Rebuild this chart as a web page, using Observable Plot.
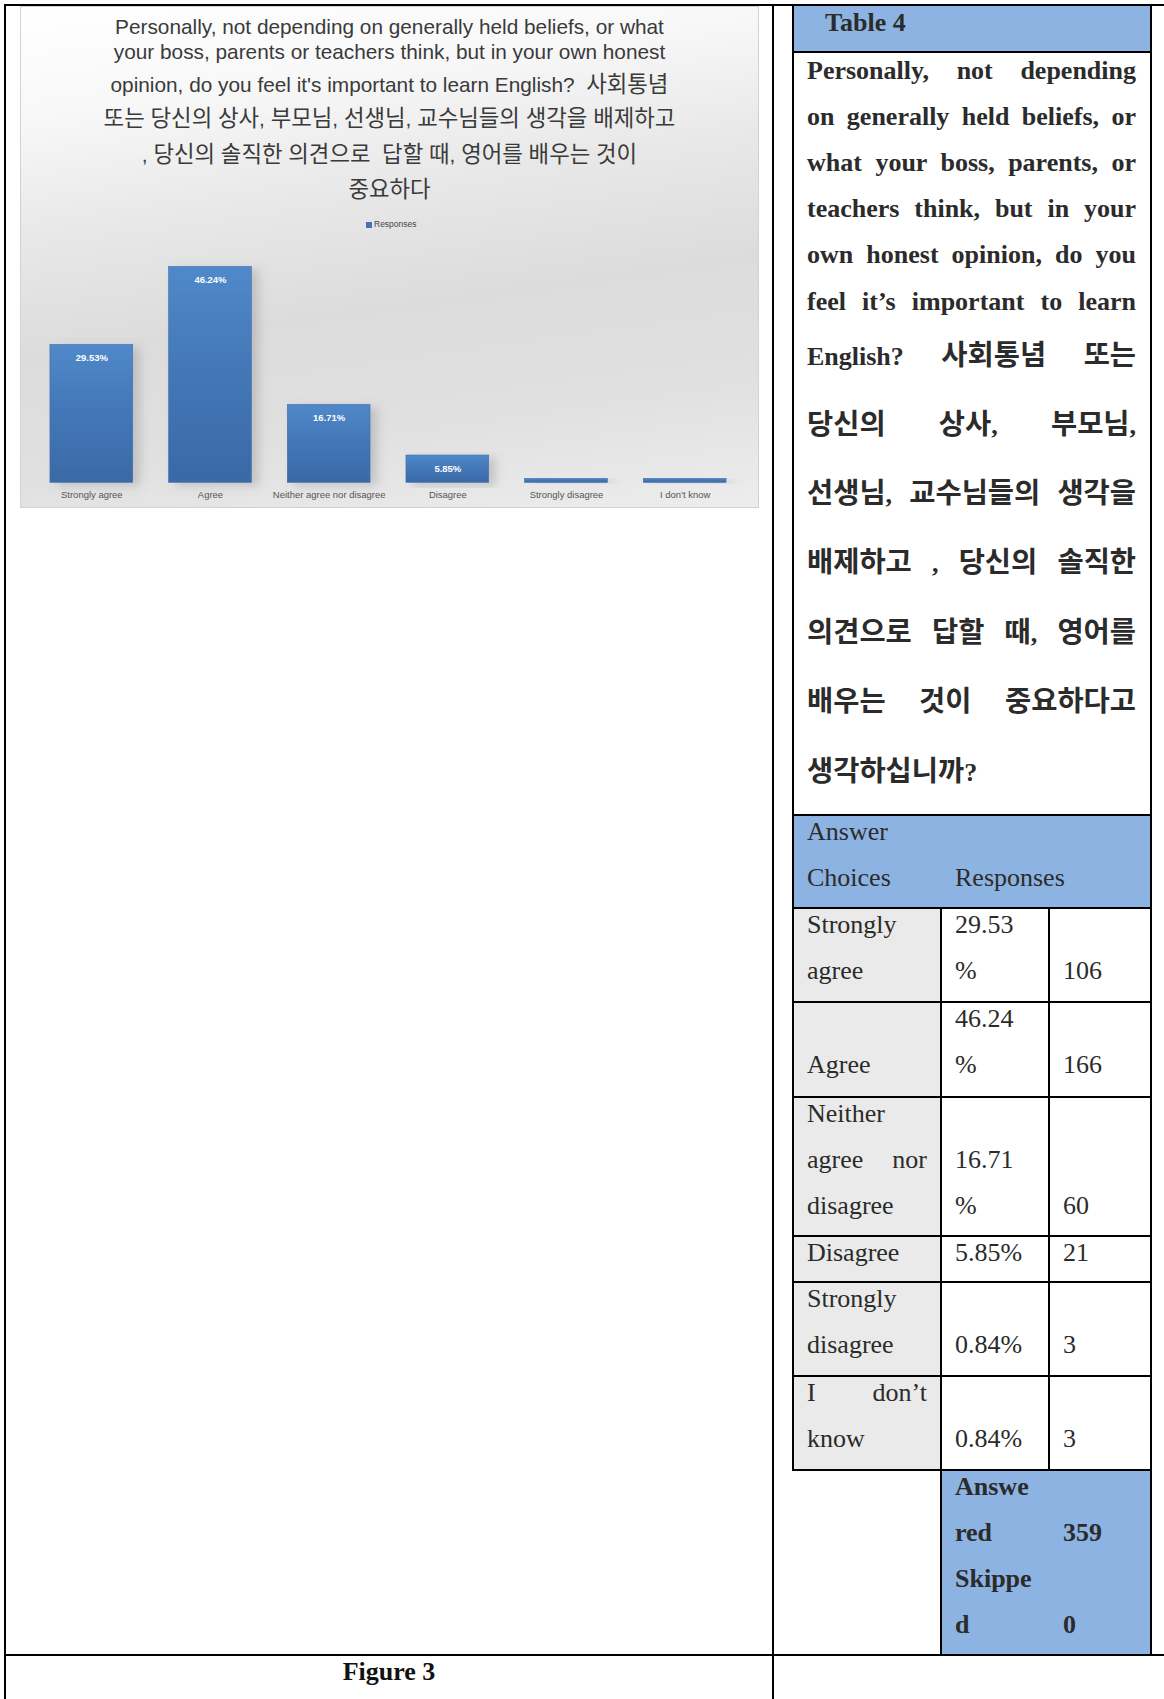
<!DOCTYPE html>
<html><head><meta charset="utf-8">
<script src="https://cdn.jsdelivr.net/npm/d3@7"></script>
<script src="https://cdn.jsdelivr.net/npm/@observablehq/plot@0.6"></script>
<style>
html,body{margin:0;padding:0;background:#fff;}
body{width:1164px;height:1699px;position:relative;overflow:hidden;}
.r{position:absolute;}
.t{position:absolute;line-height:1;white-space:nowrap;transform:translateY(-50%);}
.t .ko{font-family:"Noto Sans CJK KR",sans-serif;font-size:1.095em;}
#chart{position:absolute;left:20px;top:6px;width:739px;height:502px;box-sizing:border-box;border:1px solid #d2d2d2;
 background:linear-gradient(172deg,#ffffff 0%,#f8f8f8 18%,#e8e8e8 38%,#dcdcdc 58%,#e0e0e0 78%,#ededed 100%);}
.title{position:absolute;left:0;width:100%;text-align:center;font-family:"Liberation Sans",Arial,"Noto Sans CJK KR",sans-serif;font-size:20.8px;color:#3a3a3a;line-height:1;white-space:pre;transform:translateY(-50%);}
.title .ko{font-family:"Noto Sans CJK KR",sans-serif;font-size:1.075em;}
</style></head>
<body>
<div id="chart"></div>
<script>
// ---------- data ----------
const categories = ["Strongly agree","Agree","Neither agree nor disagree","Disagree","Strongly disagree","I don't know"];
const percents = [29.53, 46.24, 16.71, 5.85, 0.84, 0.84];
const counts = [106, 166, 60, 21, 3, 3];
const answered = 359;
const skipped = 0;
const titleLines = [
  "Personally, not depending on generally held beliefs, or what",
  "your boss, parents or teachers think, but in your own honest",
  "opinion, do you feel it's important to learn English?  사회통념",
  "또는 당신의 상사, 부모님, 선생님, 교수님들의 생각을 배제하고",
  ", 당신의 솔직한 의견으로  답할 때, 영어를 배우는 것이",
  "중요하다"
];
const seriesName = "Responses";
const questionLines = [
  "Personally, not depending",
  "on generally held beliefs, or",
  "what your boss, parents, or",
  "teachers think, but in your",
  "own honest opinion, do you",
  "feel it’s important to learn",
  "English? 사회통념 또는",
  "당신의 상사, 부모님,",
  "선생님, 교수님들의 생각을",
  "배제하고 , 당신의 솔직한",
  "의견으로 답할 때, 영어를",
  "배우는 것이 중요하다고",
  "생각하십니까?"
];
const choiceLines = [["Strongly","agree"],["Agree"],["Neither","agree nor","disagree"],["Disagree"],["Strongly","disagree"],["I don’t","know"]];
const summaryLines = [["Answe","red"],["Skippe","d"]];

const wrapKo = s => s.replace(/([\uAC00-\uD7A3]+)/g, '<span class="ko">$1</span>');

// ---------- chart ----------
const chart = document.getElementById("chart");
const titleY = [20, 45, 76, 110, 146, 181];
titleLines.forEach((s,i)=>{
  const d = document.createElement("div");
  d.className = "title"; d.innerHTML = wrapKo(s); d.style.top = titleY[i] + "px";
  chart.appendChild(d);
});
const leg = document.createElement("div");
leg.style.cssText = "position:absolute;left:345px;top:212px;font-family:'Liberation Sans',Arial,sans-serif;font-size:8.5px;color:#444;line-height:10px;white-space:nowrap;";
leg.innerHTML = '<span style="display:inline-block;width:6px;height:6px;background:#4a6fb8;margin-right:2px;vertical-align:-0.5px"></span>' + seriesName;
chart.appendChild(leg);

const data = categories.map((c,i)=>({category:c, pct:percents[i], count:counts[i]}));
const plot = Plot.plot({
  width: 739, height: 272,
  marginLeft: 12, marginRight: 12, marginTop: 13, marginBottom: 25,
  style: {background: "transparent", fontFamily: "Liberation Sans, Arial, sans-serif", overflow: "visible"},
  x: {domain: categories, paddingInner: 0.3, paddingOuter: 0.15},
  y: {domain: [0, 50], axis: null},
  marks: [
    Plot.barY(data, {x: "category", y: "pct", fill: "url(#barGrad)", stroke: "#3f6fae", strokeWidth: 0.6, className: "bars"}),
    Plot.text(data.filter(d => d.pct > 2), {x: "category", y: "pct", text: d => d.pct.toFixed(2) + "%", dy: 13, fill: "white", fontWeight: "bold", fontSize: 9.5}),
    Plot.axisX({tickSize: 0, tickPadding: 8, fontSize: 9.5, color: "#555", label: null})
  ]
});
const defs = d3.select(plot).insert("defs", ":first-child");
const g = defs.append("linearGradient").attr("id","barGrad").attr("x1",0).attr("y1",0).attr("x2",0).attr("y2",1);
g.append("stop").attr("offset","0%").attr("stop-color","#5089c9");
g.append("stop").attr("offset","45%").attr("stop-color","#4478b8");
g.append("stop").attr("offset","100%").attr("stop-color","#3a69a6");
const f = defs.append("filter").attr("id","shadow").attr("x","-10%").attr("y","-10%").attr("width","160%").attr("height","130%");
f.append("feDropShadow").attr("dx",7).attr("dy",3).attr("stdDeviation",5).attr("flood-color","#707070").attr("flood-opacity",0.28);
d3.select(plot).selectAll("g.bars rect").attr("filter","url(#shadow)");
plot.style.position = "absolute"; plot.style.left = "-1px"; plot.style.top = "229px";
chart.appendChild(plot);

// ---------- table / frame ----------
const body = document.body;
function rect(x, y, w, h, color){
  const d = document.createElement("div");
  d.className = "r";
  d.style.cssText += `left:${x}px;top:${y}px;width:${w}px;height:${h}px;background:${color};`;
  body.appendChild(d);
}
const serif = "'Liberation Serif','Times New Roman','Noto Sans CJK KR',serif";
function text(s, x, y, o = {}){
  const d = document.createElement("div");
  d.className = "t";
  d.innerHTML = wrapKo(s);
  d.style.left = x + "px"; d.style.top = y + "px";
  d.style.fontFamily = o.family || serif;
  d.style.fontSize = (o.size || 26) + "px";
  d.style.fontWeight = o.bold ? "bold" : "normal";
  d.style.color = o.color || "#2b2b2b";
  if (o.width){
    d.style.width = o.width + "px";
    d.style.whiteSpace = "normal";
    d.style.textAlign = "justify";
    d.style.textAlignLast = "justify";
  }
  if (o.center){ d.style.transform = "translate(-50%,-50%)"; }
  body.appendChild(d);
}
const BLUE = "#8db3e2", GRAY = "#eaeaea";
rect(793, 5, 358, 47, BLUE);
rect(793, 815, 358, 93, BLUE);
rect(793, 908, 148, 562, GRAY);
rect(941, 1470, 210, 185, BLUE);

const K = "#000";
rect(4, 4, 1160, 2, K);
rect(4, 4, 2, 1695, K);
rect(772, 4, 2, 1695, K);
rect(4, 1654, 1160, 2, K);
rect(792, 4, 2, 1467, K);
rect(1150, 4, 2, 1652, K);
const rowTops = [908, 1002, 1097, 1236, 1282, 1376, 1470];
[51, 814, ...rowTops.map(v=>v-1)].forEach(y => rect(792, y, 360, 2, K));
rect(940, 907, 2, 748, K);
rect(1048, 907, 2, 563, K);

text("Table 4", 825, 23, {bold: true});
const qY = [70.5, 117, 162.8, 209, 255, 301.5, 353.5, 422.7, 492, 561.4, 630.8, 699.5, 769.5];
questionLines.forEach((s,i)=>{
  const last = i === questionLines.length - 1;
  text(s, 807, qY[i], {bold: true, width: last ? null : 329});
});
text("Answer", 807, 832);
text("Choices", 807, 878);
text("Responses", 955, 878);

const P = 46.3, OFF = 16.5;
const rowLines = [2, 2, 3, 1, 2, 2];
categories.forEach((c,i)=>{
  const top = rowTops[i], n = rowLines[i];
  const cl = choiceLines[i];
  cl.forEach((s,j)=>{
    const li = n - cl.length + j;
    const isLastLine = j === cl.length - 1;
    text(s, 807, top + OFF + li*P, {width: (!isLastLine && s.includes(" ")) ? 120 : null});
  });
  const p = percents[i];
  const pl = p >= 10 ? [p.toFixed(2), "%"] : [p.toFixed(2) + "%"];
  pl.forEach((s,j)=>{ const li = n - pl.length + j; text(s, 955, top + OFF + li*P); });
  text(String(counts[i]), 1063, top + OFF + (n-1)*P);
});
const sTop = 1470;
const sumVals = [answered, skipped];
summaryLines.forEach((ls,k)=>{
  ls.forEach((s,j)=> text(s, 955, sTop + OFF + (k*2 + j)*P, {bold: true}));
  text(String(sumVals[k]), 1063, sTop + OFF + (k*2 + 1)*P, {bold: true});
});
text("Figure 3", 389, 1672, {bold: true, center: true, color: "#111"});
</script>
</body></html>
